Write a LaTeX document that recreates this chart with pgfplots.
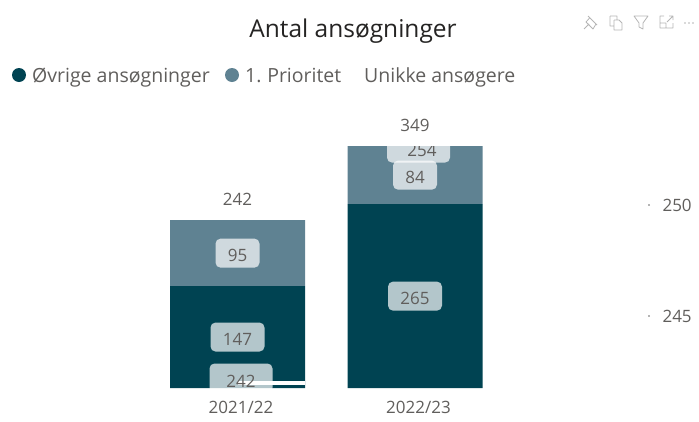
\documentclass[border=0pt]{standalone}
\usepackage{fontspec}
\setmainfont{Open Sans}
\usepackage{pgfplots}
\pgfplotsset{compat=1.18}
\definecolor{darkbar}{HTML}{004352}
\definecolor{lightbar}{HTML}{5F8292}
\definecolor{txt}{HTML}{605E5C}
\definecolor{ttl}{HTML}{252423}
\definecolor{icon}{HTML}{B5B5B5}
% #1 name, #2 half width, #3 x offset, #4 y offset (in pt, plain numbers)
\newcommand{\declarebox}[4]{%
  \pgfdeclareplotmark{#1}{%
    \pgfmathsetmacro{\xa}{#3-#2}\pgfmathsetmacro{\xb}{#3+#2}%
    \pgfmathsetmacro{\ya}{#4-14.5}\pgfmathsetmacro{\yb}{#4+14.5}%
    \pgftransformshift{\pgfpoint{#3pt}{#4pt}}%
    \pgfpathmoveto{\pgfpoint{-#2pt+5pt}{-14.5pt}}%
    \pgfpathlineto{\pgfpoint{#2pt-5pt}{-14.5pt}}%
    \pgfpathcurveto{\pgfpoint{#2pt-2.2pt}{-14.5pt}}{\pgfpoint{#2pt}{-12.3pt}}{\pgfpoint{#2pt}{-9.5pt}}%
    \pgfpathlineto{\pgfpoint{#2pt}{9.5pt}}%
    \pgfpathcurveto{\pgfpoint{#2pt}{12.3pt}}{\pgfpoint{#2pt-2.2pt}{14.5pt}}{\pgfpoint{#2pt-5pt}{14.5pt}}%
    \pgfpathlineto{\pgfpoint{-#2pt+5pt}{14.5pt}}%
    \pgfpathcurveto{\pgfpoint{-#2pt+2.2pt}{14.5pt}}{\pgfpoint{-#2pt}{12.3pt}}{\pgfpoint{-#2pt}{9.5pt}}%
    \pgfpathlineto{\pgfpoint{-#2pt}{-9.5pt}}%
    \pgfpathcurveto{\pgfpoint{-#2pt}{-12.3pt}}{\pgfpoint{-#2pt+2.2pt}{-14.5pt}}{\pgfpoint{-#2pt+5pt}{-14.5pt}}%
    \pgfpathclose
    \pgfusepathqfill}}
\declarebox{boxS}{22}{0}{0}
\declarebox{boxM}{27}{0}{0}
\declarebox{boxL}{31.5}{3.5}{0}
\declarebox{boxLup}{31.5}{3.5}{4.6}
\pgfplotsset{
  base/.style={
    scale only axis, width=500pt, height=242pt,
    at={(150pt,-388pt)}, anchor=south west,
    xmin=-0.493, xmax=2.324,
    axis line style={draw=none},
    /pgf/number format/assume math mode=true,
    tick label style={font=\fontsize{17}{20}\selectfont, text=txt},
  },
  lab/.style={
    only marks, mark=#1, clip marker paths=true,
    mark options={fill=white, fill opacity=0.7, draw=none},
    point meta=explicit symbolic, nodes near coords,
    every node near coord/.style={anchor=center, yshift=-2pt, text=txt,
      text opacity=1, fill opacity=1, opacity=1,
      font=\fontsize{17}{20}\selectfont},
  },
}
\begin{document}
\begin{tikzpicture}[x=1pt,y=-1pt]
\path[use as bounding box] (0,0) rectangle (699,421);
% bars
\begin{axis}[base, ymin=0, ymax=349, ybar stacked, bar width=135pt,
  xtick={0,1}, xticklabels={2021/22,2022/23}, ytick=\empty,
  major tick length=0pt, xticklabel style={yshift=-9.5pt, xshift=3.5pt}]
\addplot[fill=darkbar, draw=none] coordinates {(0,147) (1,265)};
\addplot[fill=lightbar, draw=none] coordinates {(0,95) (1,84)};
\end{axis}
% labels on the primary scale
\begin{axis}[base, ymin=0, ymax=349, xtick=\empty, ytick=\empty]
\addplot[lab=boxL, every node near coord/.append style={xshift=3.5pt}] coordinates {(1,346) [254]};
\addplot[lab=boxM] coordinates {(0,73.5) [147] (1,132.5) [265]};
\addplot[lab=boxS] coordinates {(0,194.5) [95] (1,307) [84]};
\addplot[only marks, mark=none, point meta=explicit symbolic, nodes near coords,
  every node near coord/.style={anchor=center, yshift=21pt, text=txt,
    font=\fontsize{17}{20}\selectfont}]
  coordinates {(0,242) [242] (1,349) [349]};
\end{axis}
% secondary scale
\begin{axis}[base, ymin=241.757, ymax=252.658, xtick=\empty,
  ytick={245,250}, axis y line*=right, y axis line style={draw=none},
  ytick style={draw=icon, line width=1.5pt},
  major tick length=2pt,
  yticklabel style={xshift=9pt, yshift=-0.5pt}]
\addplot[lab=boxLup, every node near coord/.append style={yshift=3.6pt}] coordinates {(0,242) [\vphantom{242}]};
\addplot[white, line width=4pt, forget plot] coordinates {(0,242) (0.38,242)};
\addplot[only marks, mark=none, point meta=explicit symbolic, nodes near coords,
  every node near coord/.style={anchor=center, yshift=1.6pt, xshift=3.5pt, text=txt,
    font=\fontsize{17}{20}\selectfont}]
  coordinates {(0,242) [242]};
\end{axis}
% title, legend
\node[anchor=center, text=ttl, font=\fontsize{24.5}{28}\selectfont] at (353,31) {Antal ansøgninger};
\fill[darkbar] (19,75) circle (7);
\node[anchor=base west, inner sep=0pt, text=txt, font=\fontsize{19.5}{24}\selectfont] at (32,82) {Øvrige ansøgninger};
\fill[lightbar] (232,75) circle (7);
\node[anchor=base west, inner sep=0pt, text=txt, font=\fontsize{19.5}{24}\selectfont] at (245,82) {1.\hspace{-1pt} Prioritet};
\node[anchor=base west, inner sep=0pt, text=txt, font=\fontsize{19.5}{24}\selectfont] at (364,82) {Unikke ansøgere};
% toolbar icons
\begin{scope}[draw=icon, line width=0.8pt, line join=round]
\draw (584,29) -- (589,24) (588,16) -- (597,25) (590,17.5) -- (586,22) -- (593,29) -- (596,24);
\draw (610,16) -- (617,16) -- (617,20) (610,16) -- (610,26) -- (614,26) (614,20) -- (619,20) -- (622,23) -- (622,30) -- (614,30) -- (614,20);
\draw (634,16) -- (648,16) -- (643,23) -- (643,29) -- (639,27) -- (639,23) -- cycle;
\draw (664,16) -- (660,16) -- (660,28) -- (673,28) -- (673,23) (667,22) -- (673,16) (669,16) -- (673,16) -- (673,20) (660,23) -- (666,23) -- (666,28);
\end{scope}
\fill[icon] (685,23) circle (0.9) (689,23) circle (0.9) (693,23) circle (0.9);
\end{tikzpicture}
\end{document}
